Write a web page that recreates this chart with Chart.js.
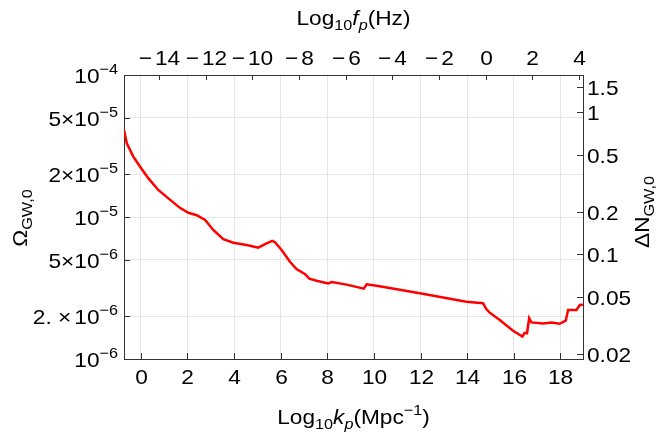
<!DOCTYPE html>
<html>
<head>
<meta charset="utf-8">
<script src="https://cdn.jsdelivr.net/npm/chart.js@4/dist/chart.umd.min.js"></script>
<style>
  body { margin: 0; background: #fff; }
  canvas { display: block; }
</style>
</head>
<body>
<canvas id="gw-chart" width="657" height="437"></canvas>
<script>
// Log10 k_p (Mpc^-1) and Omega_GW,0
const kValues = [-0.72, -0.60, -0.32, -0.03, 0.33, 0.75, 1.26, 1.68, 2.04, 2.40, 2.76, 3.11, 3.54, 3.97, 4.54, 5.04, 5.33, 5.64, 5.76, 6.04, 6.40, 6.69, 7.04, 7.23, 7.54, 8.04, 8.19, 8.83, 9.57, 9.69, 10.18, 11.97, 13.97, 14.68, 14.83, 14.97, 15.40, 15.97, 16.37, 16.47, 16.57, 16.66, 16.76, 17.26, 17.62, 17.97, 18.23, 18.33, 18.69, 18.83, 18.97];
const omegaValues = [4.10e-5, 3.30e-5, 2.66e-5, 2.26e-5, 1.87e-5, 1.55e-5, 1.32e-5, 1.16e-5, 1.07e-5, 1.03e-5, 9.52e-6, 8.10e-6, 6.97e-6, 6.59e-6, 6.35e-6, 6.08e-6, 6.45e-6, 6.78e-6, 6.64e-6, 5.86e-6, 4.84e-6, 4.28e-6, 3.97e-6, 3.68e-6, 3.56e-6, 3.41e-6, 3.48e-6, 3.34e-6, 3.13e-6, 3.36e-6, 3.27e-6, 2.90e-6, 2.53e-6, 2.47e-6, 2.24e-6, 2.12e-6, 1.88e-6, 1.58e-6, 1.44e-6, 1.53e-6, 1.52e-6, 1.94e-6, 1.81e-6, 1.78e-6, 1.81e-6, 1.77e-6, 1.86e-6, 2.21e-6, 2.21e-6, 2.40e-6, 2.41e-6];

const kTicks = [0, 2, 4, 6, 8, 10, 12, 14, 16, 18];
const fTicks = [-14, -12, -10, -8, -6, -4, -2, 0, 2, 4];
const omegaTicks = [1e-6, 2e-6, 5e-6, 1e-5, 2e-5, 5e-5, 1e-4];
const omegaMantissa = ['', '2. \u00d7', '5\u00d7', '', '2\u00d7', '5\u00d7', ''];
const omegaExponent = ['\u22126', '\u22126', '\u22126', '\u22125', '\u22125', '\u22125', '\u22124'];
const deltaNTicks = [0.02, 0.05, 0.1, 0.2, 0.5, 1, 1.5];

const kMin = -0.72, kMax = 18.97;
const fOffset = 14.79;       // log10 f_p = log10 k_p - fOffset
const deltaNPerOmega = 1.83e4;

const FONT = '"Liberation Sans", Arial, sans-serif';
const BASE = 21, SMALL = 15, STRETCH = 1.08;
const fontOf = p => (p.it ? 'italic ' : '') + (p.s || BASE) + 'px ' + FONT;

function drawRich(ctx, parts, x, y, align) {
    let w = 0;
    parts.forEach(p => { ctx.font = fontOf(p); w += (p.gap || 0) + ctx.measureText(p.t || '').width * STRETCH; });
    let cx = align === 'center' ? x - w / 2 : align === 'right' ? x - w : x;
    parts.forEach(p => {
        ctx.font = fontOf(p);
        cx += p.gap || 0;
        if (p.t) {
            ctx.save();
            ctx.translate(cx, y + (p.dy || 0));
            ctx.scale(STRETCH, 1);
            ctx.fillText(p.t, 0, 0);
            ctx.restore();
        }
        cx += ctx.measureText(p.t || '').width * STRETCH;
    });
}

function line(ctx, x1, y1, x2, y2) {
    ctx.beginPath(); ctx.moveTo(x1, y1); ctx.lineTo(x2, y2); ctx.stroke();
}

const axisDecor = {
    id: 'axisDecor',
    afterDraw(chart) {
        const { ctx, chartArea: a, scales } = chart;
        ctx.save();
        ctx.strokeStyle = '#333';
        ctx.lineWidth = 1;
        ctx.fillStyle = '#000';
        ctx.textBaseline = 'alphabetic';

        // inward tick marks + labels
        scales.x.ticks.forEach(t => {
            const px = Math.round(scales.x.getPixelForValue(t.value)) + 0.5;
            line(ctx, px, a.bottom, px, a.bottom - 6);
            drawRich(ctx, [{ t: String(t.value) }], px, 384, 'center');
        });
        scales.xTop.ticks.forEach(t => {
            const px = Math.round(scales.xTop.getPixelForValue(t.value)) + 0.5;
            line(ctx, px, a.top, px, a.top + 5);
            const parts = t.value < 0 ? [{ t: '\u2212' }, { gap: 3, t: String(-t.value) }] : [{ t: String(t.value) }];
            drawRich(ctx, parts, px, 65, 'center');
        });
        scales.y.ticks.forEach(t => {
            const py = Math.round(scales.y.getPixelForValue(t.value)) + 0.5;
            line(ctx, a.left, py, a.left + 6, py);
            const j = omegaTicks.indexOf(t.value);
            const m = omegaMantissa[j];
            drawRich(ctx, [{ t: m }, { gap: m.length > 2 ? 3 : 0, t: '10' }, { t: omegaExponent[j], s: SMALL, dy: -9 }],
                118, py + 7.5, 'right');
        });
        scales.yRight.ticks.forEach(t => {
            const py = Math.round(scales.yRight.getPixelForValue(t.value)) + 0.5;
            line(ctx, a.right, py, a.right - 6, py);
            drawRich(ctx, [{ t: String(t.value) }], 587, py + 7.5, 'left');
        });

        // axis titles
        const cx = (a.left + a.right) / 2;
        drawRich(ctx, [{ t: 'Log' }, { t: '10', s: SMALL, dy: 5 }, { t: 'k', it: true }, { t: 'p', it: true, s: SMALL, dy: 5 },
            { t: '(Mpc' }, { t: '\u22121', s: SMALL, dy: -9 }, { t: ')' }], cx, 424, 'center');
        drawRich(ctx, [{ t: 'Log' }, { t: '10', s: SMALL, dy: 5 }, { t: 'f', it: true }, { t: 'p', it: true, s: SMALL, dy: 5 },
            { t: '(Hz)' }], cx, 25, 'center');

        ctx.save();
        ctx.translate(19, 218);
        ctx.rotate(-Math.PI / 2);
        drawRich(ctx, [{ t: '\u03a9' }, { t: 'GW,0', s: SMALL, dy: 5 }], 0, 7.5, 'center');
        ctx.restore();

        ctx.save();
        ctx.translate(641.5, 212);
        ctx.rotate(-Math.PI / 2);
        drawRich(ctx, [{ t: '\u0394N' }, { t: 'GW,0', s: SMALL, dy: 5 }], 0, 7.5, 'center');
        ctx.restore();

        ctx.restore();
    }
};

const setTicks = list => scale => { scale.ticks = list.map(v => ({ value: v })); };

new Chart(document.querySelector('#gw-chart').getContext('2d'), {
    type: 'line',
    data: {
        datasets: [{
            data: kValues.map((k, i) => ({ x: k, y: omegaValues[i] })),
            borderColor: '#ff0000',
            borderWidth: 2.5,
            pointRadius: 0,
            tension: 0,
            xAxisID: 'x',
            yAxisID: 'y'
        }]
    },
    options: {
        responsive: false,
        animation: false,
        layout: { padding: 0 },
        plugins: { legend: { display: false }, tooltip: { enabled: false } },
        scales: {
            x: {
                type: 'linear', position: 'bottom', min: kMin, max: kMax,
                afterBuildTicks: setTicks(kTicks),
                afterFit: s => { s.height = 78; },
                ticks: { display: false },
                grid: { color: '#e6e6e6', drawTicks: false },
                border: { color: '#333' }
            },
            xTop: {
                type: 'linear', position: 'top', min: kMin - fOffset, max: kMax - fOffset,
                afterBuildTicks: setTicks(fTicks),
                afterFit: s => { s.height = 75; },
                ticks: { display: false },
                grid: { display: false, drawTicks: false },
                border: { color: '#333' }
            },
            y: {
                type: 'logarithmic', position: 'left', min: 1e-6, max: 1e-4,
                afterBuildTicks: setTicks(omegaTicks),
                afterFit: s => { s.width = 124; },
                ticks: { display: false },
                grid: { color: '#e6e6e6', drawTicks: false },
                border: { color: '#333' }
            },
            yRight: {
                type: 'logarithmic', position: 'right',
                min: 1e-6 * deltaNPerOmega, max: 1e-4 * deltaNPerOmega,
                afterBuildTicks: setTicks(deltaNTicks),
                afterFit: s => { s.width = 74; },
                ticks: { display: false },
                grid: { display: false, drawTicks: false },
                border: { color: '#333' }
            }
        }
    },
    plugins: [axisDecor]
});
</script>
</body>
</html>
